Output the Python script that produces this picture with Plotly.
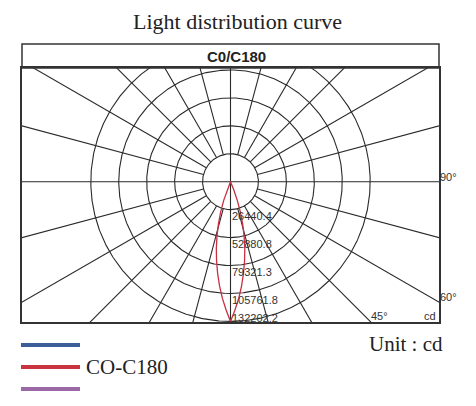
import numpy as np
import plotly.graph_objects as go

# ---------------- data ----------------
chart_title = "Light distribution curve"
panel_title = "C0/C180"
ring_values = [26440.4, 52880.8, 79321.3, 105761.8, 132202.2]
ring_labels = ["26440.4", "52880.8", "79321.3", "105761.8", "132202.2"]
spoke_angles = list(range(0, 360, 15))
angle_label_text = ["90°", "60°", "45°"]
angle_label_deg = [90, 60, 45]
unit_text = "Unit : cd"
series_name = "CO-C180"

# gamma angle (deg, 0 = nadir) and luminous intensity (cd), C0 half and C180 half
gamma_deg = [0, 2, 4, 6, 8, 10, 12, 14, 16, 18, 20, 22, 24]
c0_cd = [132202.2, 121500, 110800, 99600, 88000, 76500, 65000, 53200, 41800, 30500, 19000, 8200, 0]
c180_cd = [132202.2, 121300, 110500, 99200, 87600, 76000, 64500, 52800, 41500, 30200, 18800, 8000, 0]

legend_colors = ["#3b5e9a", "#c9323f", "#9b6aa6"]
curve_color = "#c92f43"
grid_color = "#2a2a2a"

# ---------------- layout geometry (pixels) ----------------
OFF = 8  # browser body margin
W, H = 476 - OFF, 406 - OFF
L, T = 22 - OFF, 68 - OFF
pw, ph = 417, 254
R, B = W - L - pw, H - T - ph
px_per_cd = 139.7 / ring_values[-1]
cx = 208.5  # centre offset from plot-left (px)
cy = 113.7  # centre offset from plot-top (px)
x_range = [-cx / px_per_cd, (pw - cx) / px_per_cd]
y_range = [-(ph - cy) / px_per_cd, cy / px_per_cd]


def px_x(p):
    return (p - OFF - L) / pw


def px_y(p):
    return (T + ph - (p - OFF)) / ph


fig = go.Figure()

# polar grid rings
t = np.radians(np.linspace(0, 360, 721))
gx, gy = [], []
for rv in ring_values:
    gx += list(rv * np.sin(t)) + [None]
    gy += list(-rv * np.cos(t)) + [None]
# spokes
far = 4e5
for a in spoke_angles:
    r0 = 0 if a % 90 == 0 else ring_values[0]
    ar = np.radians(a)
    gx += [r0 * np.sin(ar), far * np.sin(ar), None]
    gy += [-r0 * np.cos(ar), -far * np.cos(ar), None]
fig.add_trace(go.Scatter(x=gx, y=gy, mode="lines",
                         line=dict(color=grid_color, width=1.1),
                         hoverinfo="skip", showlegend=False))

# C0 / C180 intensity curve
g = np.array(gamma_deg, dtype=float)
ang = np.concatenate([-g[::-1], g[1:]])
inten = np.concatenate([np.array(c180_cd)[::-1], np.array(c0_cd)[1:]])
ar = np.radians(ang)
fig.add_trace(go.Scatter(x=inten * np.sin(ar), y=-inten * np.cos(ar), mode="lines",
                         line=dict(color=curve_color, width=1.3),
                         name=series_name, showlegend=False))

lab_font = dict(family="Liberation Sans, Arial", size=11, color="#333")
annotations = []
# ring value labels
for i, (rv, lab) in enumerate(zip(ring_values, ring_labels)):
    last = i == len(ring_values) - 1
    annotations.append(dict(x=0, y=-rv, xref="x", yref="y", text=lab, showarrow=False,
                            xanchor="left", yanchor="middle",
                            yshift=3.5 if last else -6.5, xshift=-1, font=lab_font))

# angle labels
xmax = x_range[1]
ymin = y_range[0]
for txt, deg in zip(angle_label_text, angle_label_deg):
    a = np.radians(deg)
    if deg >= 60:
        yy = -xmax / np.tan(a) if deg != 90 else 0.0
        annotations.append(dict(x=xmax, y=yy, xref="x", yref="y", text=txt, showarrow=False,
                                xanchor="left", yanchor="middle", yshift=5, xshift=-1, font=lab_font))
    else:
        xx = -ymin * np.tan(a)
        annotations.append(dict(x=xx, y=ymin, xref="x", yref="y", text=txt, showarrow=False,
                                xanchor="left", yanchor="middle", yshift=6, xshift=-2, font=lab_font))
annotations.append(dict(x=1, y=ymin, xref="paper", yref="y", text="cd", showarrow=False,
                        xanchor="right", yanchor="middle", yshift=6, xshift=-1, font=lab_font))

# header text
annotations.append(dict(x=px_x(236.5), y=px_y(56.5), xref="paper", yref="paper", text=panel_title,
                        showarrow=False, xanchor="center", yanchor="middle",
                        font=dict(family="Liberation Sans, Arial", size=15, color="#222", weight="bold")))
# series label and unit
annotations.append(dict(x=px_x(84), y=px_y(367), xref="paper", yref="paper", text=series_name,
                        showarrow=False, xanchor="left", yanchor="middle",
                        font=dict(family="Liberation Serif, Times New Roman", size=21, color="#222")))
annotations.append(dict(x=px_x(367), y=px_y(344), xref="paper", yref="paper", text=unit_text,
                        showarrow=False, xanchor="left", yanchor="middle",
                        font=dict(family="Liberation Serif, Times New Roman", size=21, color="#222")))

shapes = []
# header box
shapes.append(dict(type="rect", xref="paper", yref="paper", x0=0, x1=1, y0=1, y1=px_y(44),
                   line=dict(color="#333", width=1.5), fillcolor="rgba(0,0,0,0)"))
# legend keys
for c, yp in zip(legend_colors, [345, 367, 389]):
    shapes.append(dict(type="line", xref="paper", yref="paper", x0=px_x(21), x1=px_x(80),
                       y0=px_y(yp), y1=px_y(yp), line=dict(color=c, width=4)))

fig.update_layout(
    width=W, height=H,
    margin=dict(l=L, r=R, t=T, b=B),
    paper_bgcolor="white", plot_bgcolor="white",
    showlegend=False,
    title=dict(text=chart_title, x=(237.5 - OFF) / W, xref="container", xanchor="center",
               y=1 - (21 - OFF) / H, yref="container", yanchor="middle",
               font=dict(family="Liberation Serif, Times New Roman", size=22, color="#222")),
    xaxis=dict(range=x_range, showgrid=False, zeroline=False, showticklabels=False, ticks="",
               showline=True, mirror=True, linecolor="#333", linewidth=1.5, fixedrange=True),
    yaxis=dict(range=y_range, showgrid=False, zeroline=False, showticklabels=False, ticks="",
               showline=True, mirror=True, linecolor="#333", linewidth=1.5, fixedrange=True),
    annotations=annotations,
    shapes=shapes,
)

fig.write_html("out.html")
